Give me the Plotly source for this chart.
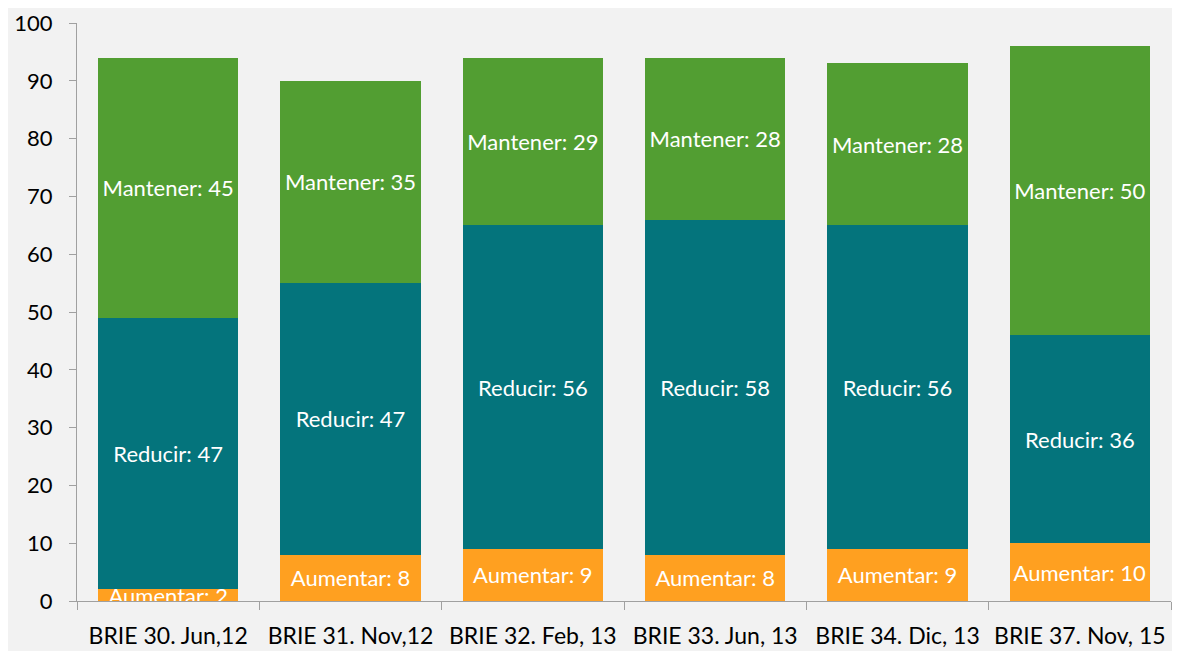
import plotly.graph_objects as go

categories = ["BRIE 30. Jun,12", "BRIE 31. Nov,12", "BRIE 32. Feb, 13",
              "BRIE 33. Jun, 13", "BRIE 34. Dic, 13", "BRIE 37. Nov, 15"]
aumentar = [2, 8, 9, 8, 9, 10]
reducir = [47, 47, 56, 58, 56, 36]
mantener = [45, 35, 29, 28, 28, 50]

FONT = "Lato"
series = [
    ("Aumentar", aumentar, "#ffa020"),
    ("Reducir", reducir, "#04747c"),
    ("Mantener", mantener, "#529e32"),
]

fig = go.Figure()
for name, vals, color in series:
    fig.add_trace(go.Bar(
        x=categories, y=vals, name=name,
        marker=dict(color=color, line=dict(width=0)),
        texttemplate=name + ": %{y}",
        textposition="inside", insidetextanchor="middle",
        textangle=0, constraintext="none",
        textfont=dict(color="white", size=22, family=FONT),
    ))

fig.update_layout(
    barmode="stack", bargap=0.23,
    width=1172, height=643,
    margin=dict(l=69, r=9, t=15, b=50),
    paper_bgcolor="#f2f2f2", plot_bgcolor="#f2f2f2",
    showlegend=False,
    uniformtext=dict(minsize=22, mode="show"),
    font=dict(family=FONT, size=22, color="black"),
)
fig.update_yaxes(range=[0, 100], dtick=10, showgrid=False, zeroline=False,
                 showline=True, linecolor="#a0a0a0", linewidth=1,
                 ticks="outside", ticklen=7, tickcolor="#a0a0a0",
                 ticklabelstandoff=12, automargin=False,
                 tickfont=dict(size=22, family=FONT))
fig.update_xaxes(showgrid=False, showline=True, linecolor="#a0a0a0", linewidth=1,
                 ticks="outside", ticklen=8, tickcolor="#a0a0a0",
                 tickson="boundaries", ticklabelstandoff=14, automargin=False,
                 tickfont=dict(size=23, family=FONT))

fig.write_html("out.html")
